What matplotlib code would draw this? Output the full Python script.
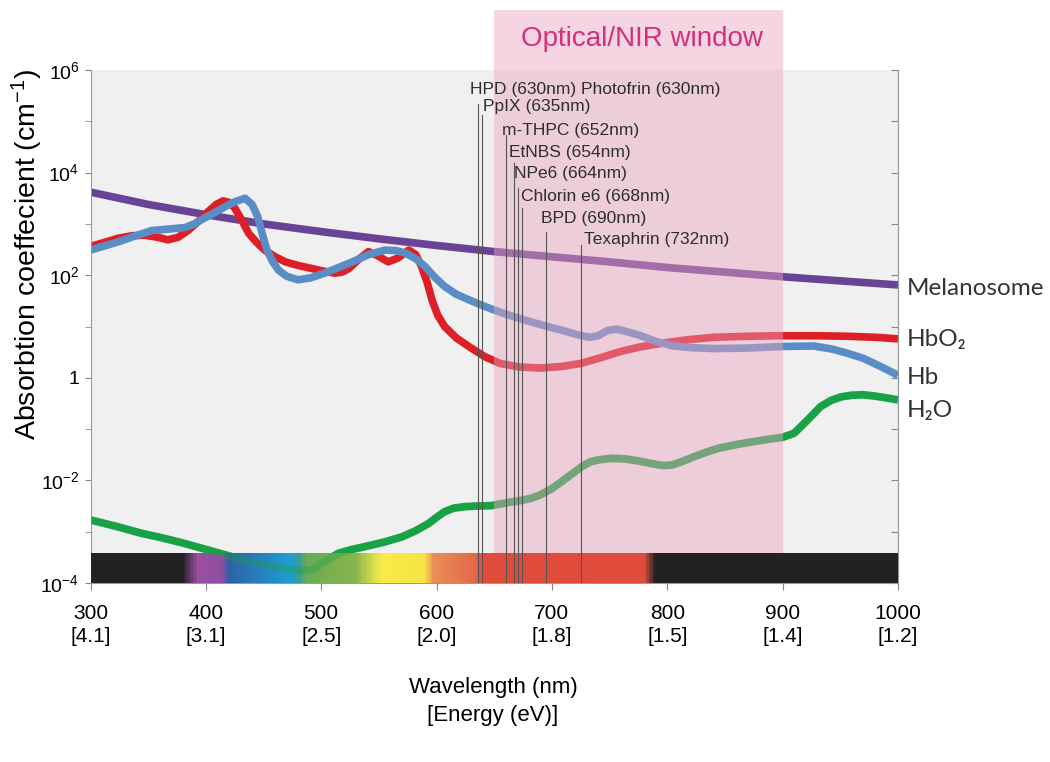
import numpy as np
import matplotlib
matplotlib.use('Agg')
import matplotlib.pyplot as plt
from matplotlib.colors import LinearSegmentedColormap
from matplotlib.patches import Rectangle
import matplotlib.transforms as mtransforms

plt.rcParams['font.family'] = ['Liberation Sans', 'DejaVu Sans']
plt.rcParams['mathtext.default'] = 'regular'

# Values (log10 of absorption coefficient, cm-1)
mel_nm = [300, 350, 400, 450, 500, 550, 600, 650, 700, 750, 800, 850, 900, 950, 1000]
mel_log = [3.62, 3.38, 3.18, 3.00, 2.85, 2.71, 2.58, 2.46, 2.36, 2.26, 2.15, 2.06, 1.97, 1.89, 1.81]

hbo2_nm = [300, 312, 324, 336, 347, 358, 367, 376, 385, 394, 402, 409, 415, 420, 425, 431, 437,
           444, 451, 460, 469, 480, 492, 502, 512, 518, 524, 532, 541, 549, 558, 566, 576, 582,
           587, 592, 596, 601, 607, 617, 628, 642, 655, 672, 690, 708, 725, 742, 759, 776, 794,
           817, 840, 870, 898, 930, 956, 980, 1000]
hbo2_log = [2.56, 2.64, 2.72, 2.77, 2.78, 2.74, 2.69, 2.74, 2.88, 3.06, 3.24, 3.38, 3.45, 3.42,
            3.31, 3.08, 2.82, 2.64, 2.49, 2.36, 2.26, 2.19, 2.13, 2.08, 2.04, 2.06, 2.13, 2.30,
            2.46, 2.38, 2.26, 2.33, 2.49, 2.40, 2.17, 1.85, 1.52, 1.22, 1.00, 0.78, 0.61, 0.41,
            0.28, 0.21, 0.19, 0.22, 0.28, 0.39, 0.51, 0.60, 0.67, 0.74, 0.79, 0.81, 0.82, 0.82,
            0.81, 0.79, 0.76]

hb_nm = [300, 312, 324, 338, 353, 368, 382, 390, 396, 406, 417, 426, 434, 440, 445, 449, 453,
         458, 463, 470, 480, 491, 503, 515, 527, 541, 555, 565, 573, 582, 590, 598, 607, 617,
         628, 642, 655, 667, 682, 696, 710, 722, 733, 740, 748, 756, 765, 776, 790, 805, 820,
         840, 870, 898, 927, 943, 956, 970, 985, 1000]
hb_log = [2.49, 2.57, 2.65, 2.76, 2.87, 2.90, 2.93, 3.00, 3.08, 3.20, 3.34, 3.44, 3.50, 3.38,
          3.14, 2.80, 2.49, 2.26, 2.10, 1.98, 1.91, 1.95, 2.04, 2.15, 2.26, 2.40, 2.49, 2.48,
          2.43, 2.32, 2.17, 1.97, 1.78, 1.63, 1.52, 1.39, 1.28, 1.19, 1.09, 1.00, 0.92, 0.84,
          0.79, 0.82, 0.92, 0.95, 0.90, 0.83, 0.71, 0.62, 0.59, 0.57, 0.58, 0.61, 0.62, 0.56,
          0.48, 0.38, 0.22, 0.05]

h2o_nm = [300, 323, 344, 364, 380, 396, 415, 433, 455, 470, 479, 487, 493, 503, 515, 526, 538,
          555, 570, 582, 593, 600, 607, 615, 625, 648, 660, 671, 682, 690, 700, 708, 717, 726,
          733, 740, 752, 763, 775, 786, 796, 804, 812, 823, 835, 845, 860, 873, 887, 900, 910,
          920, 933, 942, 951, 960, 969, 978, 987, 1000]
h2o_log = [-2.77, -2.90, -3.03, -3.13, -3.22, -3.32, -3.44, -3.55, -3.66, -3.72, -3.75, -3.76,
           -3.73, -3.58, -3.42, -3.35, -3.29, -3.20, -3.10, -2.98, -2.84, -2.72, -2.61, -2.54,
           -2.51, -2.49, -2.44, -2.40, -2.35, -2.28, -2.16, -2.03, -1.88, -1.73, -1.64, -1.60,
           -1.57, -1.58, -1.62, -1.67, -1.71, -1.70, -1.64, -1.54, -1.44, -1.37, -1.30, -1.25,
           -1.20, -1.16, -1.08, -0.86, -0.56, -0.44, -0.37, -0.34, -0.33, -0.35, -0.38, -0.43]

# photosensitisers: label, where the line is drawn (nm), line top (log10)
drug_labels = ['HPD (630nm) Photofrin (630nm)', 'PpIX (635nm)', 'm-THPC (652nm)', 'EtNBS (654nm)',
               'NPe6 (664nm)', 'Chlorin e6 (668nm)', 'BPD (690nm)', 'Texaphrin (732nm)']
drug_line_nm = [636, 639, 660, 667, 671, 674, 695, 725]
drug_line_top = [5.34, 5.12, 4.73, 4.19, 3.70, 3.31, 2.84, 2.59]
drug_text_nm = [629, 640, 657, 663, 667.5, 673.5, 690.5, 728]
drug_text_log = [5.62, 5.28, 4.83, 4.40, 3.99, 3.54, 3.10, 2.69]

curve_names = ['Melanosome', 'HbO₂', 'Hb', 'H₂O']
name_log = [1.74, 0.74, 0.0, -0.64]

xticks = [300, 400, 500, 600, 700, 800, 900, 1000]
energy = ['4.1', '3.1', '2.5', '2.0', '1.8', '1.5', '1.4', '1.2']

# visible spectrum bar colour stops
spec_nm = [300, 378, 390, 412, 418, 472, 480, 486, 528, 546, 553, 588, 597, 632, 640, 780, 789, 1000]
spec_col = ['#222222', '#222222', '#9a4f9e', '#8e4fa0', '#2f62a6', '#1f9fd3', '#3d9d8f', '#6cab56',
            '#88b54e', '#e2e24a', '#fcea47', '#f6e346', '#e98d57', '#e36a49', '#e04b3b', '#e04e3e',
            '#222222', '#222222']

fig = plt.figure(figsize=(10.5, 7.62), dpi=100)
ax = fig.add_axes([0.0862, 0.2349, 0.769, 0.6732])
ax.set_facecolor('#f0f0f0')
ax.set_yscale('log')
ax.set_xlim(300, 1000)
ax.set_ylim(1e-4, 1e6)

ax.plot(mel_nm, 10.0 ** np.array(mel_log), color='#6a4397', lw=5.5, zorder=2, solid_capstyle='butt')
ax.plot(hbo2_nm, 10.0 ** np.array(hbo2_log), color='#dd1f26', lw=5.5, zorder=2, solid_capstyle='butt')
ax.plot(hb_nm, 10.0 ** np.array(hb_log), color='#5a8dc6', lw=5.5, zorder=2.1, solid_capstyle='butt')
ax.plot(h2o_nm, 10.0 ** np.array(h2o_log), color='#17a345', lw=5.5, zorder=2, solid_capstyle='butt')

# spectrum bar
bar_top = 10 ** -3.415
cmap = LinearSegmentedColormap.from_list(
    'spec', [((n - 300) / 700.0, c) for n, c in zip(spec_nm, spec_col)])
grad = np.linspace(0, 1, 700).reshape(1, -1)
ax.imshow(grad, cmap=cmap, aspect='auto', extent=[300, 1000, 1e-4, bar_top],
          interpolation='bilinear', zorder=3)
# water line shows faintly through the bar
ax.plot(h2o_nm, 10.0 ** np.array(h2o_log), color='#17a345', lw=5.5, zorder=3.5,
        alpha=0.35, solid_capstyle='butt')

# optical window
trans = mtransforms.blended_transform_factory(ax.transData, ax.transAxes)
ax.add_patch(Rectangle((650, 0.0585), 250, 1.117 - 0.0585, transform=trans,
                       facecolor='#e9a3bd', alpha=0.45, edgecolor='none', zorder=5, clip_on=False))
ax.text(778, 1.06, 'Optical/NIR window', transform=trans, ha='center', va='center',
        fontsize=20, color='#d2307c', zorder=8)

for nm, top in zip(drug_line_nm, drug_line_top):
    ax.plot([nm, nm], [1e-4, 10 ** top], color='#555555', lw=0.8, zorder=6)
for lab, nm, lg in zip(drug_labels, drug_text_nm, drug_text_log):
    ax.text(nm, 10 ** lg, lab, ha='left', va='center', fontsize=12.5, color='#2e2e2e', zorder=7)

# right hand labels
for lab, lg in zip(curve_names, name_log):
    ax.text(1008, 10 ** lg, lab, ha='left', va='center', fontsize=17.5, color='#333333',
            family=['Lato', 'DejaVu Sans'], clip_on=False)

ax.set_xticks(xticks)
ax.set_xticklabels([f'{x}\n[{e}]' for x, e in zip(xticks, energy)], fontsize=15, linespacing=1.3)
ax.set_yticks([1e-4, 1e-2, 1, 1e2, 1e4, 1e6])
ax.set_yticklabels(['$10^{-4}$', '$10^{-2}$', '1', '$10^{2}$', '$10^{4}$', '$10^{6}$'], fontsize=14)
ax.set_yticks([1e-3, 1e-1, 1e1, 1e3, 1e5], minor=True)
ax.yaxis.set_minor_formatter(plt.NullFormatter())
ax.tick_params(axis='x', direction='out', length=5, color='#888888', pad=10)
ax.tick_params(axis='y', which='both', direction='out', length=4, color='#888888', pad=4)

# ticks on the right spine point inwards
sec = ax.secondary_yaxis('right')
sec.set_yticks([1e-4, 1e-3, 1e-2, 1e-1, 1, 1e1, 1e2, 1e3, 1e4, 1e5, 1e6])
sec.yaxis.set_minor_locator(plt.NullLocator())
sec.tick_params(axis='y', direction='in', length=5, color='#888888', labelright=False)
sec.spines['right'].set_color('#999999')

for s in ['left', 'right', 'bottom']:
    ax.spines[s].set_color('#999999')
ax.spines['top'].set_visible(False)

fig.text(493 / 1050, 1 - 701.5 / 762, 'Wavelength (nm)\n[Energy (eV)]', ha='center', va='center',
         fontsize=16, linespacing=1.45)
fig.text(27 / 1050, 1 - 255 / 762, 'Absorbtion coeffecient (cm$^{-1}$)', rotation=90,
         ha='center', va='center', fontsize=20.5)

plt.savefig('out.png', dpi=100)
